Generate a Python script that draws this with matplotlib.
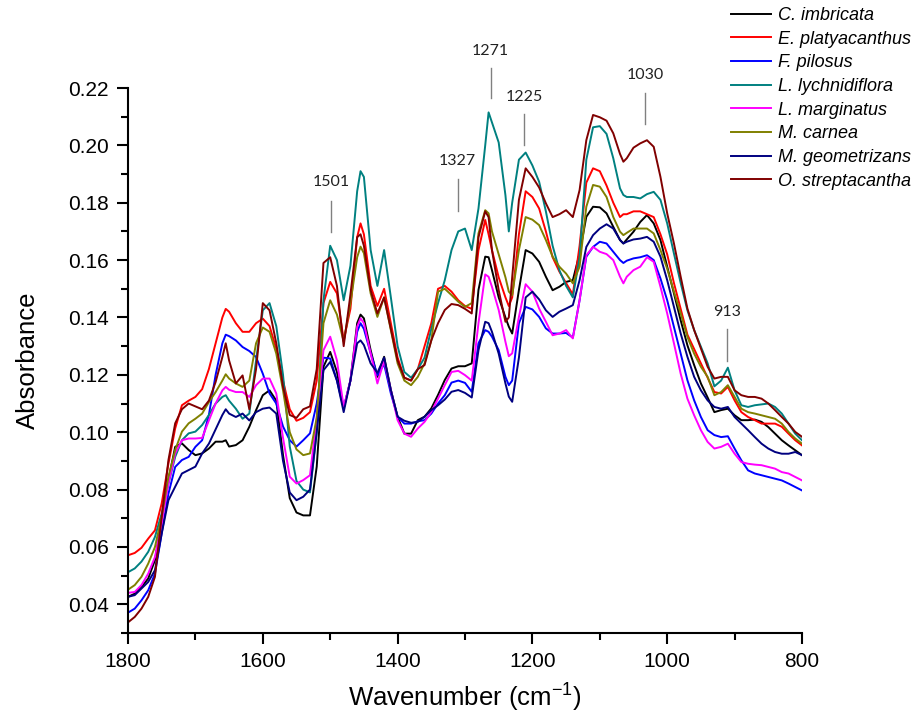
import matplotlib
matplotlib.use("Agg")
import matplotlib.pyplot as plt
from matplotlib.ticker import MultipleLocator, FormatStrFormatter

plt.rcParams['font.family'] = ['Liberation Sans', 'DejaVu Sans']

# wavenumber grid (cm-1)
wavenumber = [1800, 1790, 1780, 1770, 1760, 1750, 1740, 1730, 1720, 1710,
              1700, 1690, 1680, 1670, 1660, 1655, 1650, 1640, 1630, 1620,
              1610, 1600, 1590, 1580, 1570, 1560, 1550, 1540, 1530, 1520,
              1510, 1500, 1490, 1480, 1470, 1460, 1455, 1450, 1440, 1430,
              1420, 1410, 1400, 1390, 1380, 1370, 1360, 1350, 1340, 1330,
              1320, 1310, 1300, 1290, 1280, 1270, 1265, 1260, 1250, 1240,
              1235, 1230, 1220, 1210, 1200, 1190, 1180, 1170, 1160, 1150,
              1140, 1130, 1120, 1110, 1100, 1090, 1080, 1070, 1065, 1060,
              1050, 1040, 1030, 1020, 1010, 1000, 990, 980, 970, 960,
              950, 940, 930, 920, 910, 900, 890, 880, 870, 860,
              850, 840, 830, 820, 810, 800]

c_imbricata = [.0426, .0437, .0460, .0490, .0554, .0693, .0833, .0949, .0961, .0938,
               .0920, .0926, .0943, .0967, .0967, .0972, .0950, .0955, .0972, .1019,
               .1077, .1129, .1146, .1110, .0920, .0770, .0720, .0710, .0710, .0880,
               .1228, .1280, .1210, .1083, .1180, .1380, .1410, .1397, .1286, .1193,
               .1263, .1147, .1054, .0995, .0995, .1042, .1054, .1083, .1130, .1182,
               .1222, .1230, .1230, .1240, .1496, .1612, .1610, .1565, .1470, .1400,
               .1368, .1344, .1496, .1635, .1623, .1594, .1542, .1495, .1507, .1524,
               .1530, .1623, .1751, .1786, .1784, .1763, .1716, .1670, .1658, .1672,
               .1699, .1733, .1757, .1728, .1670, .1577, .1484, .1390, .1303, .1234,
               .1170, .1121, .1070, .1077, .1082, .1059, .1042, .1042, .1044, .1036,
               .1018, .0995, .0972, .0954, .0937, .0920]

e_platyacanthus = [.0571, .0579, .0597, .0629, .0658, .0752, .0891, .1013, .1094, .1110,
                   .1123, .1150, .1220, .1310, .1400, .1430, .1420, .1380, .1350, .1350,
                   .1380, .1396, .1370, .1290, .1180, .1080, .1040, .1050, .1070, .1180,
                   .1450, .1524, .1484, .1320, .1430, .1680, .1728, .1690, .1510, .1440,
                   .1500, .1380, .1260, .1190, .1180, .1220, .1300, .1380, .1500, .1510,
                   .1490, .1460, .1440, .1430, .1635, .1740, .1690, .1635, .1540, .1470,
                   .1440, .1470, .1690, .1840, .1820, .1780, .1700, .1610, .1560, .1520,
                   .1480, .1650, .1870, .1920, .1910, .1860, .1800, .1750, .1760, .1760,
                   .1770, .1770, .1760, .1750, .1690, .1620, .1520, .1430, .1340, .1290,
                   .1240, .1190, .1140, .1135, .1158, .1111, .1070, .1053, .1042, .1030,
                   .1030, .1030, .1019, .0995, .0972, .0954]

f_pilosus = [.0371, .0385, .0414, .0449, .0507, .0647, .0786, .0879, .0903, .0914,
             .0949, .0972, .1060, .1200, .1310, .1340, .1335, .1320, .1297, .1283,
             .1262, .1204, .1135, .1100, .1020, .0972, .0950, .0972, .0996, .1100,
             .1260, .1257, .1180, .1083, .1180, .1350, .1380, .1360, .1275, .1199,
             .1237, .1135, .1054, .1030, .1030, .1038, .1042, .1065, .1100, .1129,
             .1173, .1180, .1172, .1141, .1310, .1356, .1350, .1333, .1286, .1193,
             .1164, .1180, .1380, .1437, .1428, .1402, .1362, .1344, .1344, .1346,
             .1330, .1460, .1612, .1646, .1664, .1658, .1629, .1600, .1590, .1598,
             .1606, .1610, .1617, .1600, .1536, .1460, .1367, .1274, .1181, .1111,
             .1053, .1007, .0990, .0983, .0986, .0943, .0902, .0867, .0856, .0850,
             .0844, .0838, .0832, .0821, .0809, .0797]

l_lychnidiflora = [.0512, .0525, .0549, .0583, .0635, .0717, .0821, .0914, .0972, .0996,
                   .1002, .1025, .1060, .1100, .1123, .1129, .1110, .1082, .1047, .1065,
                   .1250, .1425, .1450, .1370, .1200, .0950, .0830, .0800, .0790, .1000,
                   .1460, .1650, .1600, .1460, .1580, .1840, .1910, .1890, .1635, .1510,
                   .1635, .1470, .1300, .1210, .1190, .1220, .1260, .1360, .1450, .1530,
                   .1635, .1700, .1710, .1635, .1780, .2000, .2115, .2080, .2010, .1826,
                   .1700, .1800, .1950, .1975, .1930, .1873, .1770, .1650, .1565, .1510,
                   .1470, .1610, .1950, .2063, .2067, .2040, .1955, .1850, .1827, .1820,
                   .1820, .1815, .1830, .1838, .1810, .1728, .1623, .1520, .1425, .1356,
                   .1298, .1240, .1160, .1180, .1225, .1146, .1094, .1088, .1094, .1097,
                   .1100, .1088, .1065, .1030, .0995, .0972]

l_marginatus = [.0440, .0443, .0467, .0507, .0565, .0682, .0821, .0926, .0972, .0978,
                .0978, .0980, .1041, .1100, .1146, .1158, .1148, .1140, .1140, .1123,
                .1164, .1187, .1187, .1135, .0980, .0845, .0821, .0833, .0850, .1050,
                .1286, .1333, .1250, .1088, .1180, .1368, .1397, .1380, .1275, .1170,
                .1250, .1147, .1042, .0995, .0984, .1013, .1036, .1071, .1117, .1164,
                .1210, .1214, .1199, .1180, .1380, .1550, .1542, .1507, .1426, .1315,
                .1265, .1275, .1402, .1516, .1490, .1431, .1385, .1338, .1344, .1356,
                .1327, .1460, .1617, .1646, .1629, .1621, .1600, .1542, .1519, .1542,
                .1565, .1577, .1610, .1594, .1507, .1414, .1310, .1204, .1117, .1059,
                .1007, .0966, .0943, .0949, .0960, .0925, .0896, .0890, .0887, .0885,
                .0879, .0873, .0861, .0856, .0844, .0832]

m_carnea = [.0451, .0467, .0496, .0542, .0600, .0705, .0845, .0938, .1002, .1031,
            .1047, .1065, .1105, .1140, .1180, .1202, .1187, .1170, .1158, .1180,
            .1310, .1365, .1350, .1274, .1146, .1000, .0940, .0920, .0926, .1050,
            .1380, .1460, .1410, .1316, .1450, .1610, .1647, .1624, .1484, .1402,
            .1470, .1356, .1240, .1180, .1164, .1193, .1240, .1320, .1490, .1500,
            .1478, .1455, .1437, .1450, .1693, .1774, .1763, .1700, .1620, .1540,
            .1490, .1478, .1635, .1750, .1741, .1722, .1670, .1612, .1577, .1553,
            .1519, .1577, .1786, .1862, .1856, .1820, .1750, .1699, .1687, .1695,
            .1710, .1710, .1710, .1693, .1635, .1570, .1490, .1414, .1332, .1274,
            .1228, .1193, .1129, .1140, .1164, .1123, .1082, .1070, .1065, .1059,
            .1053, .1047, .1030, .1001, .0978, .0960]

m_geometrizans = [.0426, .0432, .0455, .0478, .0519, .0647, .0763, .0810, .0856, .0868,
                  .0880, .0926, .0960, .1010, .1060, .1080, .1065, .1053, .1065, .1041,
                  .1070, .1082, .1086, .1065, .0900, .0790, .0763, .0775, .0800, .1000,
                  .1216, .1245, .1180, .1070, .1180, .1310, .1320, .1304, .1240, .1207,
                  .1260, .1147, .1054, .1040, .1033, .1036, .1054, .1077, .1094, .1114,
                  .1141, .1147, .1137, .1121, .1286, .1385, .1380, .1350, .1274, .1170,
                  .1124, .1106, .1260, .1470, .1490, .1463, .1425, .1402, .1420, .1431,
                  .1443, .1530, .1646, .1687, .1710, .1725, .1710, .1670, .1658, .1664,
                  .1672, .1675, .1681, .1664, .1612, .1530, .1437, .1344, .1263, .1193,
                  .1146, .1111, .1088, .1082, .1088, .1053, .1030, .1007, .0983, .0960,
                  .0943, .0931, .0925, .0925, .0931, .0920]

o_streptacantha = [.0337, .0356, .0385, .0426, .0496, .0705, .0903, .1031, .1080, .1100,
                   .1090, .1080, .1110, .1175, .1262, .1310, .1250, .1170, .1198, .1080,
                   .1220, .1450, .1425, .1310, .1158, .1060, .1050, .1080, .1090, .1220,
                   .1590, .1610, .1510, .1300, .1480, .1680, .1690, .1650, .1495, .1414,
                   .1470, .1360, .1250, .1190, .1180, .1220, .1234, .1320, .1380, .1426,
                   .1447, .1443, .1430, .1414, .1680, .1770, .1750, .1635, .1495, .1385,
                   .1400, .1540, .1810, .1920, .1890, .1853, .1798, .1750, .1760, .1774,
                   .1750, .1844, .2018, .2106, .2098, .2086, .2042, .1970, .1943, .1955,
                   .1992, .2007, .2018, .1995, .1890, .1763, .1658, .1542, .1431, .1356,
                   .1292, .1228, .1187, .1193, .1193, .1146, .1129, .1123, .1123, .1117,
                   .1100, .1077, .1053, .1030, .1001, .0984]

species = ['C. imbricata', 'E. platyacanthus', 'F. pilosus', 'L. lychnidiflora',
           'L. marginatus', 'M. carnea', 'M. geometrizans', 'O. streptacantha']
spectra = [c_imbricata, e_platyacanthus, f_pilosus, l_lychnidiflora,
           l_marginatus, m_carnea, m_geometrizans, o_streptacantha]
colors = ['black', 'red', 'blue', '#008080', 'magenta', '#808000', '#000080', '#800000']

# peak labels: text, line x, line bottom, line top, text y
peak_labels = ['1501', '1327', '1271', '1225', '1030', '913']
peak_x = [1499, 1311, 1262, 1212, 1033, 911]
peak_y0 = [0.1699, 0.1771, 0.2165, 0.2001, 0.2074, 0.1248]
peak_y1 = [0.1807, 0.1883, 0.2270, 0.2109, 0.2183, 0.1359]
peak_ty = [0.1872, 0.1945, 0.2330, 0.2170, 0.2245, 0.1420]

fig = plt.figure(figsize=(9.2, 7.2), dpi=100)
ax = fig.add_axes([128/920, 1-633/720, 674/920, 545/720])

for y, c, lab in zip(spectra, colors, species):
    ax.plot(wavenumber, y, color=c, lw=1.4, label=lab)

for t, x, y0, y1, ty in zip(peak_labels, peak_x, peak_y0, peak_y1, peak_ty):
    ax.plot([x, x], [y0, y1], color='#808080', lw=1.0, clip_on=False)
    ax.text(x, ty, t, ha='center', va='center', fontsize=11.5,
            family=['Lato', 'DejaVu Sans'], color='#222222', clip_on=False)

ax.set_xlim(1800, 800)
ax.set_ylim(0.03, 0.22)
ax.xaxis.set_major_locator(MultipleLocator(200))
ax.xaxis.set_minor_locator(MultipleLocator(100))
ax.yaxis.set_major_locator(MultipleLocator(0.02))
ax.yaxis.set_minor_locator(MultipleLocator(0.01))
ax.yaxis.set_major_formatter(FormatStrFormatter('%.2f'))
ax.set_yticks([0.04, 0.06, 0.08, 0.10, 0.12, 0.14, 0.16, 0.18, 0.20, 0.22])

for s in ['top', 'right']:
    ax.spines[s].set_visible(False)
for s in ['left', 'bottom']:
    ax.spines[s].set_linewidth(1.5)
ax.tick_params(which='major', direction='out', length=8, width=1.5, labelsize=15, pad=6)
ax.tick_params(which='minor', direction='out', length=5, width=1.5)

ax.set_xlabel('Wavenumber (cm$^{\\mathregular{-1}}$)', fontsize=18.5, labelpad=6)
ax.set_ylabel('Absorbance', fontsize=18.5, labelpad=20)

fig.legend(loc='upper left', bbox_to_anchor=(731/920, 1-7/720), frameon=False,
           prop={'style': 'italic', 'size': 13}, handlelength=2.2,
           handletextpad=0.4, labelspacing=0.37, borderpad=0, borderaxespad=0)

fig.savefig('out.png', dpi=100)
